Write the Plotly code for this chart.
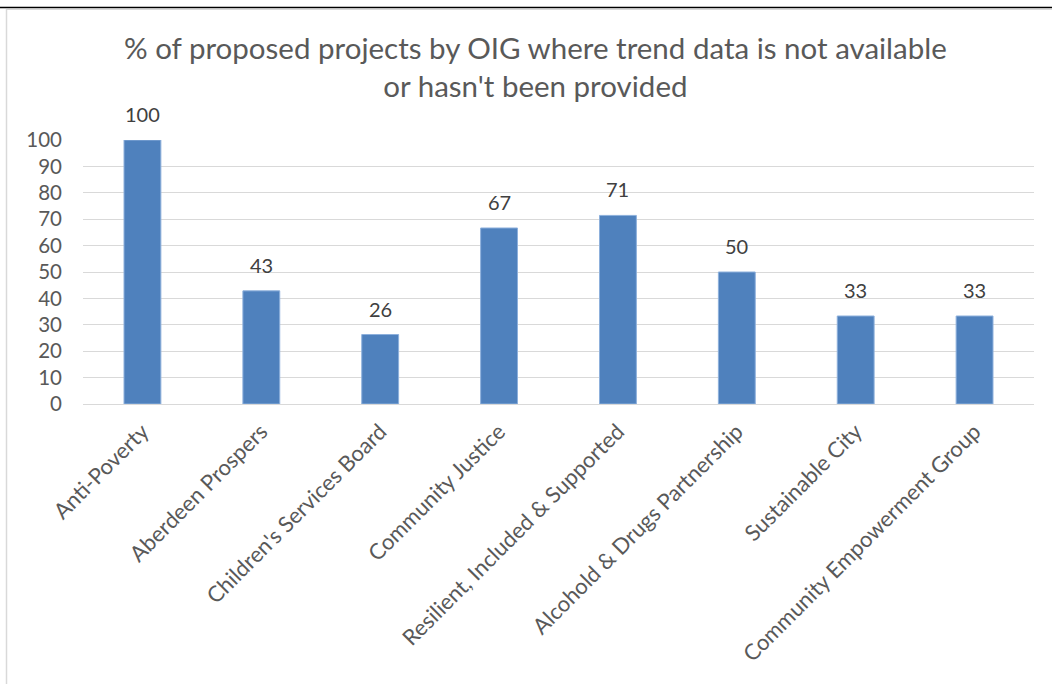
import plotly.graph_objects as go

categories = ["Anti-Poverty", "Aberdeen Prospers", "Children's Services Board",
              "Community Justice", "Resilient, Included & Supported",
              "Alcohold & Drugs Partnership", "Sustainable City",
              "Community Empowerment Group"]
values = [100, 42.86, 26.32, 66.67, 71.43, 50, 33.33, 33.33]
y_ticks = [0, 10, 20, 30, 40, 50, 60, 70, 80, 90, 100]
title_text = "% of proposed projects by OIG where trend data is not available<br>or hasn't been provided"

FONT = "Lato, Calibri, Carlito, sans-serif"

fig = go.Figure()
fig.add_trace(go.Bar(
    x=categories, y=values,
    marker=dict(color="#4F81BD", line=dict(color="#8DB0DC", width=1)),
    width=0.31,
))

for c, v in zip(categories, values):
    fig.add_annotation(x=c, y=v, text=f"{round(v)}", showarrow=False,
                       yanchor="bottom", yshift=12,
                       font=dict(family=FONT, size=20, color="#404040"))

L, R, T, B = 83, 18, 140, 280
W, H = 1052, 684
pw, ph = W - L - R, H - T - B

def px(x):
    return (x - L) / pw

def py(y):
    return (H - B - y) / ph

shapes = [
    dict(type="line", xref="paper", yref="paper", x0=px(0), x1=px(W), y0=py(7.5), y1=py(7.5),
         line=dict(color="#000000", width=1.5)),
    dict(type="line", xref="paper", yref="paper", x0=px(6), x1=px(W), y0=py(9.5), y1=py(9.5),
         line=dict(color="#D9D9D9", width=1)),
    dict(type="line", xref="paper", yref="paper", x0=px(6.5), x1=px(6.5), y0=py(9), y1=py(H),
         line=dict(color="#D9D9D9", width=1.5)),
]

fig.add_annotation(text=title_text, xref="paper", yref="paper",
                   x=px(535), y=py(28), xanchor="center", yanchor="top",
                   showarrow=False, align="center",
                   font=dict(family=FONT, size=29.5, color="#595959"))

fig.update_layout(
    width=W, height=H,
    margin=dict(l=L, r=R, t=T, b=B),
    paper_bgcolor="white", plot_bgcolor="white",
    showlegend=False,
    shapes=shapes,
    xaxis=dict(tickangle=-45, tickfont=dict(family=FONT, size=22, color="#595959"),
               showline=True, linecolor="#D9D9D9", linewidth=1, ticks="", showgrid=False,
               ticklabelstandoff=5),
    yaxis=dict(range=[0, 100], tickvals=y_ticks, tickfont=dict(family=FONT, size=20.5, color="#595959"),
               showgrid=True, gridcolor="#D9D9D9", gridwidth=1, zeroline=False, ticks="",
               ticklabelstandoff=20),
)

fig.write_html("out.html")
